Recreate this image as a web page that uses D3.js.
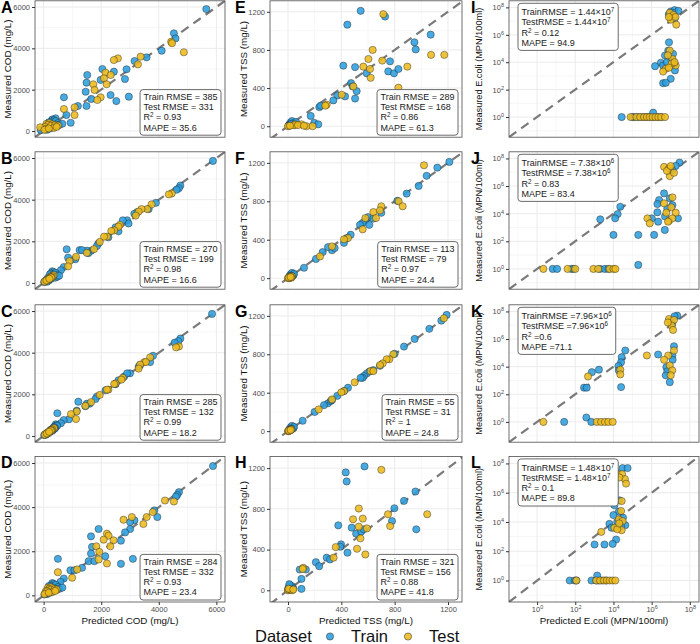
<!DOCTYPE html>
<html>
<head>
<meta charset="utf-8">
<script src="https://cdn.jsdelivr.net/npm/d3@7"></script>
<style>
  body { margin: 0; background: #fff; }
  text { font-family: "Liberation Sans", Arial, sans-serif; }
</style>
</head>
<body>
<svg id="chart" width="700" height="644"></svg>
<script>
// ---- data: [predicted, measured] ----
// COD (mg/L)
const codTrainA = [[5650,5900],[4525,4725],[4580,4480],[4100,3885],[3575,3565],[3160,3385],[2880,2985],[2825,2515],[2440,2870],[2040,3000],[1515,2710],[1490,2340],[1980,2470],[2325,1740],[2525,1450],[2960,1660],[1460,1900],[1655,1550],[1490,1210],[1190,1210],[705,1630],[790,775],[940,400],[415,615],
  [300,560],[350,520],[250,450],[420,480],[500,380],[200,300],[150,250],[380,300],[100,150],[60,80],[220,120],[300,200],[450,250],[120,60],[-100,40],[550,300],[650,350],[180,420]];
const codTestA = [[4870,3810],[4430,4320],[4460,4250],[2580,3515],[2440,3435],[3370,3595],[3275,3225],[2150,2820],[2330,2710],[2095,2550],[2190,2260],[1725,2260],[1770,1985],[1980,1630],[1865,1500],[1075,1145],[705,1065],[1075,775],
  [100,350],[200,380],[150,300],[300,320],[50,200],[250,250],[400,280],[80,100],[350,150],[-120,180],[500,260],[30,60],[180,120],[450,200]];
const codTrainB = [[5880,5864],[4750,4680],[4700,4555],[4620,4480],[3900,3850],[3650,3550],[3250,3400],[3150,3325],[2900,3010],[2950,2855],[2600,2480],[2750,3010],[2500,2675],[2250,2195],[1900,1895],[1850,1775],[1650,1550],[1500,1550],[1550,1430],[1250,1580],[1330,1580],[850,1215],[1100,1140],[800,1620],[700,765],[600,615],
  [300,560],[350,520],[250,450],[420,480],[450,380],[200,300],[150,250],[330,300],[100,150],[60,80],[180,120],[260,200],[400,250],[120,60],[20,40],[480,300],[540,350],[220,420]];
const codTestB = [[4450,4300],[4350,4255],[3750,3775],[3600,3550],[3400,3550],[3300,3430],[3200,3235],[2650,2795],[2600,2705],[2450,2525],[2350,2495],[2200,2225],[2100,2225],[1950,1970],[1750,1625],[1500,1445],[1125,1250],[900,1050],[850,800],
  [300,350],[350,380],[250,300],[320,320],[180,200],[250,250],[280,280],[80,100],[160,150],[150,180],[260,260],[30,60],[100,120],[200,200]];
const codTrainC = [[5850,5864],[4750,4680],[4680,4555],[4550,4480],[3800,3850],[3700,3550],[3350,3400],[3300,3325],[3000,3010],[2800,2855],[2500,2480],[2900,3010],[2600,2675],[2150,2195],[1850,1895],[1800,1775],[1600,1550],[1500,1550],[1450,1430],[1205,1645],[1150,1215],[880,800],[475,1090],[700,765],[600,615],
  [420,560],[450,520],[380,450],[470,480],[400,380],[250,300],[220,250],[300,300],[120,150],[60,80],[150,120],[230,200],[300,250],[80,60],[20,40],[330,300],[380,350],[350,420]];
const codTestC = [[4700,4300],[4600,4255],[3700,3775],[3500,3550],[3550,3550],[3350,3430],[3300,3235],[2750,2795],[2700,2705],[2500,2525],[2450,2495],[2250,2225],[2200,2225],[1950,1970],[1650,1625],[1450,1445],[1150,1175],[1125,815],[950,1050],
  [330,350],[360,380],[280,300],[300,320],[200,200],[240,250],[270,280],[90,100],[140,150],[170,180],[250,260],[40,60],[110,120],[190,200]];
const codTrainD = [[5883,5864],[4700,4680],[4640,4555],[4595,4480],[3845,3850],[3950,3550],[3155,3400],[3005,3325],[3005,3010],[2830,2855],[2685,2480],[1910,3010],[1645,2675],[1680,2195],[1645,1895],[2140,1775],[1565,1550],[1760,1550],[2685,1430],[3100,1655],[1335,1250],[930,1140],[1070,1140],[495,1655],[700,765],[585,615],
  [300,560],[350,520],[250,450],[420,480],[500,380],[200,300],[150,250],[380,300],[100,150],[60,80],[220,120],[300,200],[450,250],[120,60],[30,40],[550,300],[650,350],[180,420]];
const codTestD = [[4215,4300],[4525,4255],[3790,3775],[3580,3550],[3065,3550],[2775,3430],[3465,3235],[2200,2795],[2255,2705],[2085,2525],[2430,2495],[2315,2225],[1830,2225],[1935,1970],[1910,1625],[2200,1445],[1165,1175],[495,1050],[990,800],
  [150,350],[250,380],[200,300],[300,320],[80,200],[250,250],[380,280],[80,100],[300,150],[120,180],[450,260],[30,60],[180,120],[400,200]];

// TSS (mg/L)
const tssTrainE = [[545,1210],[445,1065],[728,1150],[1070,960],[948,880],[958,805],[415,635],[503,620],[765,680],[752,575],[795,555],[828,600],[590,555],[473,452],[485,417],[515,368],[503,290],[428,313],[370,323],[340,271],[235,200],[245,215],[170,108],[197,35],[227,20],
  [10,20],[20,40],[30,55],[40,30],[15,10],[50,15],[5,5],[60,45],[25,25]];
const tssTestE = [[715,1175],[635,800],[603,705],[565,625],[615,600],[620,508],[707,688],[895,625],[1073,748],[1172,748],[828,404],[403,330],[490,417],[290,226],[280,215],
  [0,0],[52,20],[102,20],[140,0],[185,0],[45,10],[15,5],[75,12],[120,5]];
const tssTrainF = [[1210,1210],[1120,1150],[1040,1065],[980,960],[890,880],[820,805],[700,680],[600,635],[640,620],[580,600],[560,575],[610,555],[540,555],[470,452],[440,417],[420,368],[330,290],[350,313],[300,323],[260,271],[210,200],[120,108],[40,35],[25,20],
  [10,20],[20,40],[30,55],[40,30],[15,10],[30,15],[5,5],[45,45],[25,25]];
const tssTestF = [[1020,1175],[830,800],[700,748],[860,748],[690,705],[640,688],[580,625],[660,625],[560,508],[450,417],[420,404],[330,330],[240,226],
  [0,0],[20,20],[30,20],[10,0],[25,5],[15,10],[5,5],[20,12]];
const tssTrainG = [[1190,1210],[1150,1150],[1060,1065],[950,960],[870,880],[800,805],[690,680],[640,635],[610,620],[590,600],[570,575],[560,555],[545,555],[450,452],[420,417],[370,368],[300,290],[320,313],[330,323],[270,271],[200,200],[110,108],[40,35],[20,20],
  [10,20],[20,40],[30,55],[40,30],[15,10],[25,15],[5,5],[45,45],[25,25]];
const tssTestG = [[1170,1175],[790,800],[760,748],[740,748],[710,705],[690,688],[620,625],[640,625],[500,508],[420,417],[400,404],[330,330],[230,226],
  [0,0],[20,20],[25,20],[5,0],[10,5],[15,10],[5,5],[20,12]];
const tssTrainH = [[574,1217],[433,1158],[440,1069],[956,970],[870,878],[798,806],[780,680],[962,599],[377,638],[478,615],[511,556],[549,576],[568,599],[398,451],[392,428],[446,369],[290,320],[315,303],[209,276],[234,237],[134,204],[88,204],[101,112],[101,14],[26,14],
  [5,30],[15,50],[30,40],[0,10],[20,5],[40,20],[10,60]];
const tssTestH = [[700,1183],[531,803],[488,697],[561,704],[531,625],[592,608],[750,747],[766,631],[1044,747],[543,510],[518,408],[580,352],[358,424],[342,320],[115,221],[110,210],
  [0,0],[10,5],[20,10],[30,0],[5,15],[40,8]];

// E.coli (MPN/100ml), log10 of the values
const ecoTrainI = [[7.0,7.7],[7.2,7.8],[7.4,7.75],[7.0,7.35],[7.2,7.2],[6.9,7.5],[7.1,7.6],
  [6.91,5.45],[6.87,4.85],[7.12,4.61],[6.70,4.49],[6.48,3.96],[6.6,3.76],[6.18,3.71],[7.22,3.4],[7.0,2.79],[6.6,2.47],[6.74,2.5],[7.0,4.2],[6.8,4.0],[7.2,3.9],
  [4.43,0],[5.0,0],[5.1,0],[5.3,0],[5.5,0],[5.7,0],[5.9,0],[6.1,0],[6.3,0],[6.5,0],[6.08,0.32]];
const ecoTestI = [[6.95,7.6],[7.15,7.45],[7.29,6.74],[7.0,7.1],[7.25,7.3],[6.9,7.3],
  [6.95,4.85],[7.09,4.24],[6.74,3.52],[7.26,3.76],[6.6,3.32],[6.85,4.5],[7.05,3.9],[7.2,4.0],[6.9,3.6],
  [4.9,0],[5.2,0],[5.4,0],[5.6,0],[5.75,0],[5.9,0],[6.05,0],[6.2,0],[6.35,0],[6.5,0],[6.7,0]];
const ecoTrainJ = [[7.46,7.7],[7.26,7.46],[7.08,7.15],
  [4.36,4.5],[4.22,3.97],[4.09,3.66],[3.31,3.59],[4.0,2.46],[5.3,2.46],[6.13,2.46],[5.3,0.29],[6.69,2.82],
  [6.65,5.47],[6.39,4.99],[6.95,5.11],[6.3,4.7],[6.82,4.38],[7.09,4.62],[6.3,4.1],[6.01,3.66],[6.34,3.42],[7.38,3.66],[6.7,3.8],
  [0.82,0],[1.05,0],[1.8,0],[1.9,0],[3.3,0],[3.55,0],[3.73,0]];
const ecoTestJ = [[6.65,7.39],[6.91,7.28],[6.95,6.72],[7.17,6.96],[6.8,7.1],[7.0,7.45],
  [7.09,5.18],[6.65,4.75],[7.03,4.46],[7.26,4.07],[6.77,4.07],[5.78,3.66],[5.9,3.3],[6.91,3.49],[7.08,3.66],[6.86,3.42],
  [0.33,0],[1.6,0],[2.0,0],[2.95,0],[3.2,0],[3.8,0],[4.0,0],[4.1,0]];
const ecoTrainK = [[7.34,7.69],[7.2,7.65],[7.08,7.09],[7.0,7.3],
  [4.62,5.17],[4.43,4.69],[4.4,4.32],[4.26,4.04],[4.28,3.73],[4.4,2.52],[3.24,3.78],[2.87,3.6],[2.46,2.48],[2.6,2.48],
  [6.34,4.88],[7.17,5.48],[7.08,4.81],[6.77,3.96],[6.82,3.67],[6.74,3.37],[6.95,2.88],[7.1,4.5],
  [1.42,0],[2.58,0.32],[2.84,0]];
const ecoTestK = [[6.91,7.45],[7.17,7.38],[7.05,6.97],[7.12,6.66],[6.85,7.2],
  [5.75,4.81],[6.87,4.81],[6.65,4.5],[7.17,5.17],[6.95,4.09],[7.08,3.73],[7.0,3.37],[4.36,3.78],[4.36,3.44],[2.67,3.29],
  [0.33,0],[3.13,0],[3.35,0],[3.55,0],[3.73,0],[3.96,0]];
const ecoTrainL = [[4.48,7.68],[4.74,7.68],[4.05,7.15],[4.14,7.38],
  [4.31,5.48],[4.05,5.14],[4.28,4.7],[4.0,4.47],[4.62,3.78],[3.79,3.87],[4.14,2.8],[3.96,2.5],[3.53,2.46],[3.01,2.46],[4.2,4.0],[4.4,3.7],[3.9,3.6],[4.5,4.3],
  [1.71,0],[1.97,0],[2.06,0],[2.85,0],[3.1,0],[3.23,0],[3.4,0],[3.15,0.34],[3.6,0]];
const ecoTestL = [[4.22,7.27],[4.45,7.27],[4.6,6.93],[4.31,7.04],[4.66,6.62],
  [4.43,5.43],[4.4,4.75],[4.28,4.17],[4.43,3.44],[4.05,3.6],[4.48,4.06],[3.36,3.32],[4.2,3.5],[4.3,3.9],
  [2.06,0],[3.1,0],[3.3,0],[3.5,0],[3.65,0],[3.8,0],[3.95,0],[4.1,0]];

// panel statistics
const panelLabels = ['A','B','C','D','E','F','G','H','I','J','K','L'];
const trainRmse = [385, 270, 285, 284, 289, 113, 55, 321, 1.44e7, 7.38e6, 7.96e6, 1.48e7];
const testRmse  = [331, 199, 132, 332, 168, 79, 31, 156, 1.44e7, 7.38e6, 7.96e6, 1.48e7];
const r2Values  = [0.93, 0.98, 0.99, 0.93, 0.86, 0.97, 1, 0.88, 0.12, 0.83, 0.6, 0.1];
const mapeValues = [35.6, 16.6, 18.2, 23.4, 61.3, 24.4, 24.8, 41.8, 94.9, 83.4, 71.1, 89.8];

// axis ticks
const codTicks = [0, 2000, 4000, 6000];
const codMinor = [1000, 3000, 5000];
const tssTicks = [0, 400, 800, 1200];
const tssMinor = [200, 600, 1000];
const ecoTickExp = [0, 2, 4, 6, 8];
const ecoMinorExp = [-1, 1, 3, 5, 7];

const yTitles = ['Measured COD (mg/L)', 'Measured TSS (mg/L)', 'Measured E.coli (MPN/100ml)'];
const xTitles = ['Predicted COD (mg/L)', 'Predicted TSS (mg/L)', 'Predicted E.coli (MPN/100ml)'];

const trainSets = [codTrainA, codTrainB, codTrainC, codTrainD, tssTrainE, tssTrainF, tssTrainG, tssTrainH, ecoTrainI, ecoTrainJ, ecoTrainK, ecoTrainL];
const testSets  = [codTestA, codTestB, codTestC, codTestD, tssTestE, tssTestF, tssTestG, tssTestH, ecoTestI, ecoTestJ, ecoTestK, ecoTestL];

// ---- layout ----
const svg = d3.select('#chart');
const colX = [[35, 225], [270, 462], [509, 699]];
const rowY = [[0.8, 137.2], [151.8, 289.2], [304.8, 442.2], [456.4, 602]];
const colors = { train: '#2E9FDF', test: '#EDBB1E' };

const pow10 = (e) => Math.pow(10, e);

function makeScales(col, x0, x1, y0, y1) {
  if (col === 0) {
    return [d3.scaleLinear().domain([-300, 6300]).range([x0, x1]),
            d3.scaleLinear().domain([-300, 6300]).range([y1, y0])];
  }
  if (col === 1) {
    return [d3.scaleLinear().domain([-135, 1305]).range([x0, x1]),
            d3.scaleLinear().domain([-115, 1315]).range([y1, y0])];
  }
  return [d3.scaleLog().domain([pow10(-1.47), pow10(8.48)]).range([x0, x1]),
          d3.scaleLog().domain([pow10(-1.47), pow10(8.48)]).range([y1, y0])];
}

// superscript via baseline-shift so following lines keep their baseline
function sup(sel, s, size) {
  sel.append('tspan').attr('baseline-shift', 'super').attr('font-size', size).text(s);
}

const defs = svg.append('defs');

trainSets.forEach((train, i) => {
  const col = Math.floor(i / 4), row = i % 4;
  const [x0, x1] = colX[col];
  const [y0, y1] = rowY[row];
  const [x, y] = makeScales(col, x0, x1, y0, y1);
  const isLog = col === 2;
  const majors = col === 0 ? codTicks : col === 1 ? tssTicks : ecoTickExp.map(pow10);
  const minors = col === 0 ? codMinor : col === 1 ? tssMinor : ecoMinorExp.map(pow10);

  const g = svg.append('g');
  const clipId = 'clip' + i;
  defs.append('clipPath').attr('id', clipId)
    .append('rect').attr('x', x0).attr('y', y0).attr('width', x1 - x0).attr('height', y1 - y0);

  // grid
  g.selectAll('.vminor').data(minors).join('line')
    .attr('x1', d => x(d)).attr('x2', d => x(d)).attr('y1', y0).attr('y2', y1)
    .attr('stroke', '#f2f2f2').attr('stroke-width', 0.6);
  g.selectAll('.hminor').data(minors).join('line')
    .attr('y1', d => y(d)).attr('y2', d => y(d)).attr('x1', x0).attr('x2', x1)
    .attr('stroke', '#f2f2f2').attr('stroke-width', 0.6);
  g.selectAll('.vmajor').data(majors).join('line')
    .attr('x1', d => x(d)).attr('x2', d => x(d)).attr('y1', y0).attr('y2', y1)
    .attr('stroke', '#ebebeb').attr('stroke-width', 1);
  g.selectAll('.hmajor').data(majors).join('line')
    .attr('y1', d => y(d)).attr('y2', d => y(d)).attr('x1', x0).attr('x2', x1)
    .attr('stroke', '#ebebeb').attr('stroke-width', 1);

  // 1:1 line
  const dom = x.domain();
  g.append('line')
    .attr('clip-path', `url(#${clipId})`)
    .attr('x1', x(dom[0])).attr('y1', y(dom[0]))
    .attr('x2', x(dom[1])).attr('y2', y(dom[1]))
    .attr('stroke', '#7a7a7a').attr('stroke-width', 2.2)
    .attr('stroke-dasharray', '9,6');

  // points
  const val = isLog ? pow10 : (v => v);
  const pts = g.append('g').attr('clip-path', `url(#${clipId})`);
  [[train, colors.train], [testSets[i], colors.test]].forEach(([set, c]) => {
    pts.selectAll(null).data(set).join('circle')
      .attr('cx', d => x(val(d[0]))).attr('cy', d => y(val(d[1])))
      .attr('r', 3.6)
      .attr('fill', c).attr('fill-opacity', 0.88)
      .attr('stroke', '#1f1f1f').attr('stroke-width', 0.5).attr('stroke-opacity', 0.85);
  });

  // panel border
  g.append('rect').attr('x', x0).attr('y', y0).attr('width', x1 - x0).attr('height', y1 - y0)
    .attr('fill', 'none').attr('stroke', '#4d4d4d').attr('stroke-width', 0.8);

  // y axis
  const yAxis = d3.axisLeft(y).tickValues(majors).tickSize(3).tickPadding(2);
  if (!isLog) yAxis.tickFormat(d3.format('d'));
  const ya = g.append('g').attr('transform', `translate(${x0},0)`).call(yAxis);
  ya.select('.domain').remove();
  ya.selectAll('.tick line').attr('stroke', '#333');
  ya.selectAll('.tick text').attr('fill', '#4d4d4d').attr('font-size', 7.5)
    .attr('font-family', '"Liberation Sans", Arial, sans-serif');
  if (isLog) ya.selectAll('.tick text').each(function (d) {
    const t = d3.select(this).text('10');
    sup(t, Math.round(Math.log10(d)), 5.5);
  });

  // x axis only on bottom row
  if (row === 3) {
    const xAxis = d3.axisBottom(x).tickValues(majors).tickSize(3).tickPadding(2);
    if (!isLog) xAxis.tickFormat(d3.format('d'));
    const xa = g.append('g').attr('transform', `translate(0,${y1})`).call(xAxis);
    xa.select('.domain').remove();
    xa.selectAll('.tick line').attr('stroke', '#333');
    xa.selectAll('.tick text').attr('fill', '#4d4d4d').attr('font-size', 7.5)
      .attr('font-family', '"Liberation Sans", Arial, sans-serif');
    if (isLog) xa.selectAll('.tick text').each(function (d) {
      const t = d3.select(this).text('10');
      sup(t, Math.round(Math.log10(d)), 5.5);
    });
    g.append('text').attr('x', (x0 + x1) / 2).attr('y', 623.5)
      .attr('text-anchor', 'middle').attr('font-size', 9.8).attr('fill', '#111')
      .text(xTitles[col]);
  }

  // y title
  const tx = [8, 244, 479][col];
  g.append('text')
    .attr('transform', `translate(${tx},${(y0 + y1) / 2}) rotate(-90)`)
    .attr('text-anchor', 'middle').attr('dy', '0.35em')
    .attr('font-size', col === 2 ? 9.2 : 9.8).attr('fill', '#111')
    .text(yTitles[col]);

  // panel letter
  g.append('text').attr('x', [1, 235, 471][col]).attr('y', y0 + 12)
    .attr('font-size', 16).attr('font-weight', 'bold').attr('fill', '#000')
    .text(panelLabels[i]);

  // stats label
  const lab = g.append('g');
  const txt = lab.append('text').attr('font-size', 9).attr('fill', '#1a1a1a');
  const lineH = 10.2;
  const line = (k) => txt.append('tspan').attr('x', 0).attr('y', k * lineH);
  if (!isLog) {
    line(0).text(`Train RMSE = ${trainRmse[i]}`);
    line(1).text(`Test RMSE = ${testRmse[i]}`);
    const r = line(2).text('R');
    sup(r, '2', 6.3);
    r.append('tspan').text(` = ${r2Values[i]}`);
    line(3).text(`MAPE = ${mapeValues[i]}`);
  } else {
    const sep = i === 10 ? ' =' : ' = ';
    const sci = v => {
      const e = Math.floor(Math.log10(v));
      return [(v / pow10(e)).toFixed(2), e];
    };
    [['TrainRMSE', trainRmse[i]], ['TestRMSE', testRmse[i]]].forEach(([name, v], k) => {
      const [m, e] = sci(v);
      const t = line(k).text(`${name}${sep}${m}×10`);
      sup(t, e, 6.3);
    });
    const r = line(2).text('R');
    sup(r, '2', 6.3);
    r.append('tspan').text(`${sep}${r2Values[i]}`);
    line(3).text(`MAPE${sep}${mapeValues[i]}`);
  }
  const bb = txt.node().getBBox();
  const padX = 3.5, padY = 2.5;
  const bw = bb.width + padX * 2, bh = bb.height + padY * 2;
  lab.insert('rect', 'text')
    .attr('x', bb.x - padX).attr('y', bb.y - padY).attr('width', bw).attr('height', bh)
    .attr('rx', 3).attr('fill', '#fff').attr('stroke', '#5a5a5a').attr('stroke-width', 0.9);
  let tx0, ty0;
  if (!isLog) {
    tx0 = x1 - 4 - (bb.x - padX + bw);
    ty0 = y1 - 2 - (bb.y - padY + bh);
  } else {
    tx0 = x0 + 9 - (bb.x - padX);
    ty0 = y0 + 2.5 - (bb.y - padY);
  }
  lab.attr('transform', `translate(${tx0},${ty0})`);
});

// legend
const leg = svg.append('g');
leg.append('text').attr('x', 255).attr('y', 641.5).attr('font-size', 16.5).attr('fill', '#111').text('Dataset');
[['Train', colors.train, 330], ['Test', colors.test, 408]].forEach(([name, c, cx]) => {
  leg.append('circle').attr('cx', cx).attr('cy', 636.5).attr('r', 3.6)
    .attr('fill', c).attr('fill-opacity', 0.88).attr('stroke', '#1f1f1f').attr('stroke-width', 0.5);
  leg.append('text').attr('x', cx + 21).attr('y', 641.5).attr('font-size', 16.5).attr('fill', '#111').text(name);
});
</script>
</body>
</html>
